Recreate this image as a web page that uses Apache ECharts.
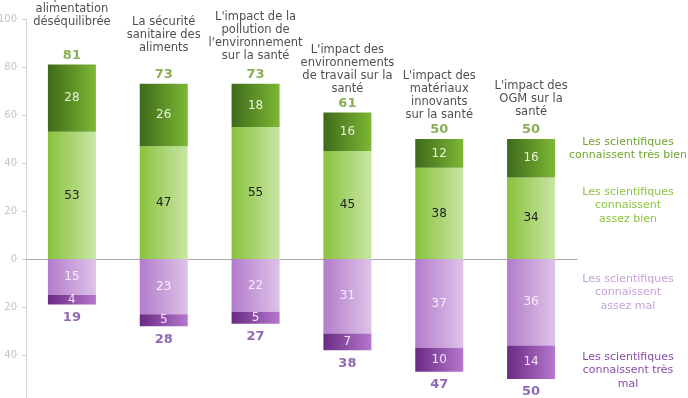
<!DOCTYPE html>
<html>
<head>
<meta charset="utf-8">
<script src="https://cdn.jsdelivr.net/npm/echarts@6/dist/echarts.min.js"></script>
<style>
  html, body { margin: 0; padding: 0; background: #fff; }
  #main { width: 688px; height: 398px; }
</style>
</head>
<body>
<div id="main"></div>
<script>
var categories = [
    "L'impact d'une\nalimentation\ndéséquilibrée",
    'La sécurité\nsanitaire des\naliments',
    "L'impact de la\npollution de\nl'environnement\nsur la santé",
    "L'impact des\nenvironnements\nde travail sur la\nsanté",
    "L'impact des\nmatériaux\ninnovants\nsur la santé",
    "L'impact des\nOGM sur la\nsanté"
];
var tresBien  = [28, 26, 18, 16, 12, 16];
var assezBien = [53, 47, 55, 45, 38, 34];
var assezMal  = [15, 23, 22, 31, 37, 36];
var tresMal   = [4, 5, 5, 7, 10, 14];
var totalBien = [81, 73, 73, 61, 50, 50];
var totalMal  = [19, 28, 27, 38, 47, 50];

// extra lift of each category name above its total (layout only)
var nameLift = [19, 12, 4, 0, 0, 3];

var font = 'DejaVu Sans';

function grad(a, b) {
    return new echarts.graphic.LinearGradient(0, 0, 1, 0, [
        {offset: 0, color: a}, {offset: 1, color: b}
    ]);
}
function neg(arr) { return arr.map(function (v) { return -v; }); }
function absFmt(p) { return Math.abs(p.value); }

function legendText(text, color, top) {
    return {
        text: text, left: 628, top: top, textAlign: 'center', padding: 0,
        textStyle: {fontFamily: font, fontSize: 11, fontWeight: 'normal', color: color, lineHeight: 13.5}
    };
}

var option = {
    animation: false,
    title: [
        legendText('Les scientifiques\nconnaissent très bien', '#72a430', 135),
        legendText('Les scientifiques\nconnaissent\nassez bien', '#8cc440', 185),
        legendText('Les scientifiques\nconnaissent\nassez mal', '#c7a0da', 272),
        legendText('Les scientifiques\nconnaissent très\nmal', '#8a4ca8', 350)
    ],
    grid: {left: 26, right: 111, top: 19, bottom: -5, outerBoundsMode: 'none'},
    xAxis: {
        type: 'category',
        data: categories,
        axisLine: {lineStyle: {color: '#a8a8a8'}},
        axisTick: {inside: true, length: 3, lineStyle: {color: '#a8a8a8'}},
        axisLabel: {show: false}
    },
    yAxis: {
        type: 'value',
        min: -60, max: 100, interval: 20,
        splitLine: {show: false},
        axisLine: {show: true, lineStyle: {color: '#d6d6d6'}},
        axisTick: {show: true, length: 4, lineStyle: {color: '#d0d0d0'}},
        axisLabel: {
            color: '#c4c4c4', fontFamily: font, fontSize: 10, margin: 9,
            formatter: function (v) { return Math.abs(v); }
        }
    },
    series: [{
        name: 'assez bien', type: 'bar', stack: 'all', barWidth: 48,
        data: assezBien,
        itemStyle: {color: grad('#88c23c', '#c9e6a4')},
        label: {show: true, position: 'inside', color: '#222', fontFamily: font, fontSize: 12}
    }, {
        name: 'très bien', type: 'bar', stack: 'all',
        data: tresBien,
        itemStyle: {color: grad('#3e6a1a', '#7db834')},
        label: {show: true, position: 'inside', color: '#eaf3dc', fontFamily: font, fontSize: 12}
    }, {
        name: 'assez mal', type: 'bar', stack: 'all',
        data: neg(assezMal),
        itemStyle: {color: grad('#b47ccb', '#ddc3e8')},
        label: {show: true, position: 'inside', color: '#f6ecfa', fontFamily: font, fontSize: 12, formatter: absFmt}
    }, {
        name: 'très mal', type: 'bar', stack: 'all',
        data: neg(tresMal),
        itemStyle: {color: grad('#6a2a84', '#b678cd')},
        label: {show: true, position: 'inside', color: '#f4e6f8', fontFamily: font, fontSize: 12, formatter: absFmt}
    }, {
        name: 'total bien', type: 'scatter', symbolSize: 1, silent: true,
        itemStyle: {color: 'rgba(0,0,0,0)'},
        data: totalBien,
        label: {show: true, position: 'top', distance: 2, color: '#6b9a2c', fontFamily: font, fontSize: 13, fontWeight: 'bold'}
    }, {
        name: 'total mal', type: 'scatter', symbolSize: 1, silent: true,
        itemStyle: {color: 'rgba(0,0,0,0)'},
        data: neg(totalMal),
        label: {show: true, position: 'bottom', distance: 6, color: '#7342a0', fontFamily: font, fontSize: 13, fontWeight: 'bold', formatter: absFmt}
    }, {
        name: 'noms', type: 'scatter', symbolSize: 1, silent: true,
        itemStyle: {color: 'rgba(0,0,0,0)'},
        data: totalBien,
        label: {
            show: true, position: 'top', distance: 17, color: '#222', fontFamily: font, fontSize: 11.5, lineHeight: 13,
            formatter: function (p) { return categories[p.dataIndex]; }
        },
        labelLayout: function (p) { return {dy: -nameLift[p.dataIndex]}; }
    }]
};

var myChart = echarts.init(document.getElementById('main'));
myChart.setOption(option);
</script>
</body>
</html>
